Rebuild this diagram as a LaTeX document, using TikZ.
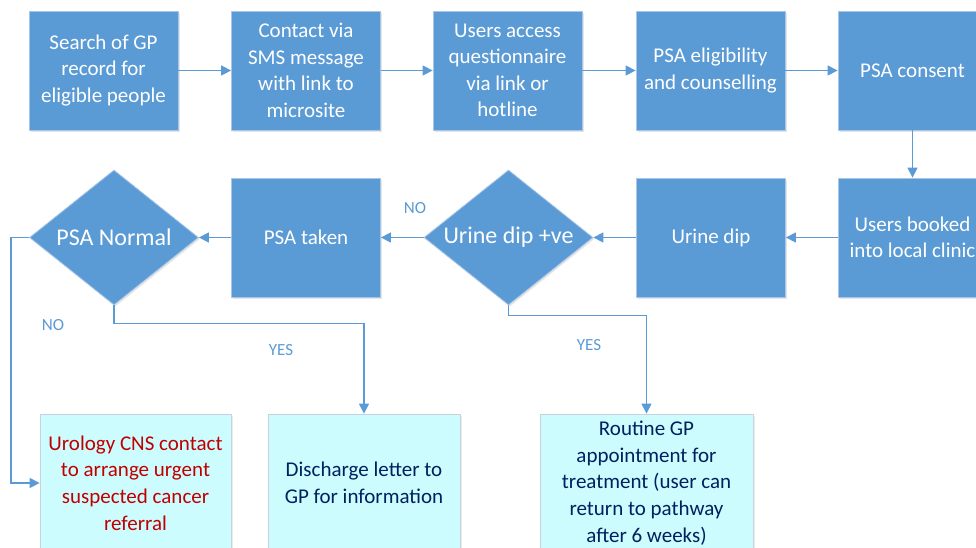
\documentclass[tikz,border=0pt]{standalone}
\usepackage{fontspec}
\setmainfont{Carlito}
\usetikzlibrary{shapes.geometric,arrows.meta,shadows}
\definecolor{boxblue}{HTML}{5B9BD5}
\definecolor{boxedge}{HTML}{A9C6E8}
\definecolor{lightfill}{HTML}{CCFCFD}
\definecolor{lightedge}{HTML}{C5D3DF}
\definecolor{navy}{HTML}{002060}
\definecolor{darkred}{HTML}{C00000}
\tikzset{
  bluebox/.style={rectangle, fill=boxblue, draw=boxedge, line width=0.8pt, text=white,
    align=center, inner sep=0pt, minimum width=149pt, minimum height=119pt,
    font=\fontsize{21}{26.5}\selectfont,
    drop shadow={shadow xshift=1.5pt, shadow yshift=-1.5pt, opacity=0.2, fill=gray}},
  decision/.style={diamond, fill=boxblue, draw=boxedge, line width=0.8pt, text=white,
    inner sep=0pt, minimum width=169pt, minimum height=135pt,
    font=\fontsize{24}{28}\selectfont,
    drop shadow={shadow xshift=1.5pt, shadow yshift=-1.5pt, opacity=0.2, fill=gray}},
  outbox/.style={rectangle, fill=lightfill, draw=lightedge, line width=0.8pt, text=navy,
    align=center, inner sep=0pt, minimum height=138pt,
    font=\fontsize{21}{26.8}\selectfont,
    drop shadow={shadow xshift=1.5pt, shadow yshift=-1.5pt, opacity=0.15, fill=gray}},
  flow/.style={draw=boxblue, line width=1.4pt, -{Triangle[length=10pt,width=10pt]}},
  lbl/.style={text=boxblue, font=\fontsize{17}{19}\selectfont, inner sep=0pt}
}
\begin{document}
\begin{tikzpicture}[x=1pt,y=-1pt]
\clip (0,0) rectangle (976,547);
\fill[white] (0,0) rectangle (976,547);
% top row
\node[bluebox] (b1) at (103.5,70.5) {Search of GP\\record for\\eligible people};
\node[bluebox] (b2) at (306,70.5) {Contact via\\SMS message\\with link to\\microsite};
\node[bluebox] (b3) at (507.5,70.5) {Users access\\questionnaire\\via link or\\hotline};
\node[bluebox] (b4) at (710.5,70.5) {PSA eligibility\\and counselling};
\node[bluebox] (b5) at (912.5,70.5) {PSA consent};
% second row
\node[bluebox] (b6) at (912.5,237.5) {Users booked\\into local clinic};
\node[bluebox] (ud) at (711,237.5) {Urine dip};
\node[decision] (d1) at (508.5,237.5) {\makebox[0pt]{Urine dip +ve}};
\node[bluebox] (pt) at (306,237.5) {PSA taken};
\node[decision] (d2) at (114,237.5) {\makebox[0pt]{PSA Normal}};
% bottom row
\node[outbox, minimum width=191pt, text=darkred] (uro) at (135.5,483) {Urology CNS contact\\to arrange urgent\\suspected cancer\\referral};
\node[outbox, minimum width=192pt] (dis) at (364,483) {Discharge letter to\\GP for information};
\node[outbox, minimum width=213pt] (rout) at (646.5,483) {Routine GP\\appointment for\\treatment (user can\\return to pathway\\after 6 weeks)};
% connectors
\draw[flow] (b1.east) -- (b2.west);
\draw[flow] (b2.east) -- (b3.west);
\draw[flow] (b3.east) -- (b4.west);
\draw[flow] (b4.east) -- (b5.west);
\draw[flow] (b5.south) -- (b6.north);
\draw[flow] (b6.west) -- (ud.east);
\draw[flow] (ud.west) -- (d1.east);
\draw[flow] (d1.west) -- (pt.east);
\draw[flow] (pt.west) -- (d2.east);
\draw[flow] (d2.west) -- ++(-18,0) |- (uro.west);
\draw[flow] (d2.south) -- ++(0,18) -| (dis.north);
\draw[flow] (d1.south) -- ++(0,10) -| (rout.north);
% labels
\node[lbl] (no1) at (415,208) {NO};
\node[lbl] (no2) at (53,325) {NO};
\node[lbl] (yes1) at (281,350) {YES};
\node[lbl] (yes2) at (589,345) {YES};
\end{tikzpicture}
\end{document}
